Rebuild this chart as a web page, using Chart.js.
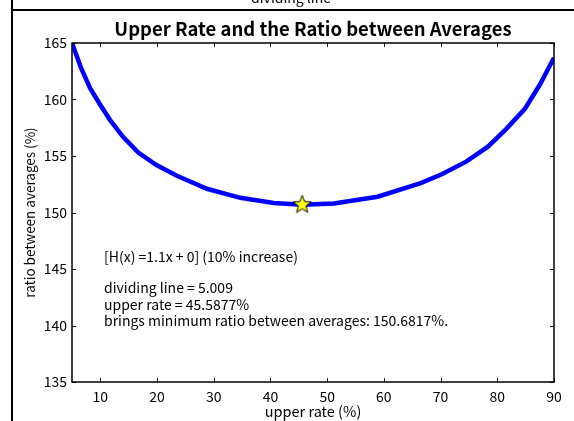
<!DOCTYPE html>
<html>
<head>
<meta charset="utf-8">
<script src="https://cdn.jsdelivr.net/npm/chart.js@4/dist/chart.umd.min.js"></script>
<style>
    html, body { margin: 0; padding: 0; background: #ffffff; }
    canvas { display: block; }
</style>
</head>
<body>
<canvas id="ratioChart" width="574" height="421"></canvas>
<script>
// values
const upperRate = [5.009, 6.6, 8.2, 9.9, 11.7, 14.0, 16.7, 19.9, 23.5, 28.8, 34.7, 40.6, 45.59, 51.2, 58.9, 66.5, 70.3, 74.5, 78.3, 81.6, 84.9, 87.5, 90];
const ratioAvg = [165.0, 162.8, 161.0, 159.6, 158.2, 156.7, 155.3, 154.2, 153.25, 152.1, 151.3, 150.85, 150.68, 150.8, 151.4, 152.6, 153.4, 154.5, 155.8, 157.4, 159.2, 161.3, 163.7];
const minRate = [45.5877];
const minRatio = [150.6817];
const xTicks = [10, 20, 30, 40, 50, 60, 70, 80, 90];
const yTicks = [135, 140, 145, 150, 155, 160, 165];
const noteLines = [
    '[H(x) =1.1x + 0] (10% increase)',
    '',
    'dividing line = 5.009',
    'upper rate = 45.5877%',
    'brings minimum ratio between averages: 150.6817%.'
];

const fontFamily = '"Noto Sans CJK JP", "Liberation Sans", sans-serif';

function makeStar(outer, inner) {
    let c = document.createElement('canvas');
    let size = Math.ceil(outer * 2 + 4);
    c.width = size;
    c.height = size;
    let ctx = c.getContext('2d');
    let cx = size / 2, cy = size / 2;
    ctx.beginPath();
    for (let i = 0; i < 10; i++) {
        let r = i % 2 === 0 ? outer : inner;
        let a = -Math.PI / 2 + i * Math.PI / 5;
        let px = cx + r * Math.cos(a);
        let py = cy + r * Math.sin(a);
        if (i === 0) ctx.moveTo(px, py); else ctx.lineTo(px, py);
    }
    ctx.closePath();
    ctx.fillStyle = '#ffff00';
    ctx.fill();
    ctx.lineWidth = 1;
    ctx.strokeStyle = '#000000';
    ctx.stroke();
    return c;
}

const decorations = {
    id: 'decorations',
    beforeDraw(chart) {
        let ctx = chart.ctx;
        ctx.save();
        ctx.fillStyle = '#ffffff';
        ctx.fillRect(0, 0, chart.width, chart.height);
        ctx.restore();
    },
    afterDraw(chart) {
        let ctx = chart.ctx;
        let area = chart.chartArea;
        let xs = chart.scales.x;
        let ys = chart.scales.y;
        ctx.save();

        // outer figure frame
        ctx.strokeStyle = '#000000';
        ctx.lineWidth = 2;
        ctx.beginPath();
        ctx.moveTo(12, 0);
        ctx.lineTo(12, chart.height);
        ctx.moveTo(12, 10);
        ctx.lineTo(chart.width, 10);
        ctx.stroke();

        // text of the panel above, cut off
        ctx.fillStyle = '#000000';
        ctx.font = '14px ' + fontFamily;
        ctx.textAlign = 'center';
        ctx.textBaseline = 'alphabetic';
        ctx.fillText('dividing line', 291, 3);

        // title
        ctx.font = 'bold 18.5px ' + fontFamily;
        ctx.textBaseline = 'middle';
        ctx.fillText('Upper Rate and the Ratio between Averages', (area.left + area.right) / 2, 29);

        // axes box
        ctx.lineWidth = 1.5;
        ctx.strokeRect(area.left, area.top, area.right - area.left, area.bottom - area.top);

        // inward ticks on all four sides
        ctx.lineWidth = 1;
        ctx.beginPath();
        xTicks.forEach(v => {
            let px = Math.round(xs.getPixelForValue(v)) + 0.5;
            ctx.moveTo(px, area.bottom);
            ctx.lineTo(px, area.bottom - 4);
            ctx.moveTo(px, area.top);
            ctx.lineTo(px, area.top + 4);
        });
        yTicks.forEach(v => {
            let py = Math.round(ys.getPixelForValue(v)) + 0.5;
            ctx.moveTo(area.left, py);
            ctx.lineTo(area.left + 4, py);
            ctx.moveTo(area.right, py);
            ctx.lineTo(area.right - 4, py);
        });
        ctx.stroke();

        // note text
        ctx.font = '14px ' + fontFamily;
        ctx.textAlign = 'left';
        ctx.textBaseline = 'middle';
        let noteY = [257, 0, 288, 305, 321];
        noteLines.forEach((line, i) => {
            if (line) ctx.fillText(line, 104, noteY[i]);
        });
        ctx.restore();
    }
};

let chartCanvas = document.getElementById('ratioChart').getContext('2d');

new Chart(chartCanvas, {
    type: 'scatter',
    data: {
        datasets: [
            {
                data: minRate.map((x, i) => ({x: x, y: minRatio[i]})),
                pointStyle: makeStar(9.5, 4),
                pointRadius: 10,
                showLine: false,
                order: 0
            },
            {
                data: upperRate.map((x, i) => ({x: x, y: ratioAvg[i]})),
                showLine: true,
                borderColor: '#0000ff',
                borderWidth: 4.5,
                pointRadius: 0,
                tension: 0,
                order: 1
            }
        ]
    },
    options: {
        responsive: false,
        animation: false,
        layout: {
            padding: {top: 43, left: 12, right: 20, bottom: 1}
        },
        plugins: {
            legend: {display: false},
            tooltip: {enabled: false}
        },
        scales: {
            x: {
                type: 'linear',
                min: 5.009,
                max: 90,
                afterBuildTicks: scale => {
                    scale.ticks = xTicks.map(v => ({value: v}));
                },
                afterFit: scale => {
                    scale.height = 38;
                },
                grid: {display: false, drawTicks: false},
                border: {display: false},
                ticks: {
                    color: '#000000',
                    padding: 6,
                    maxRotation: 0,
                    font: {family: fontFamily, size: 14}
                },
                title: {
                    display: true,
                    text: 'upper rate (%)',
                    color: '#000000',
                    padding: {top: 0, bottom: 0},
                    font: {family: fontFamily, size: 14.5}
                }
            },
            y: {
                type: 'linear',
                min: 135,
                max: 165,
                afterBuildTicks: scale => {
                    scale.ticks = yTicks.map(v => ({value: v}));
                },
                afterFit: scale => {
                    scale.width = 60;
                },
                grid: {display: false, drawTicks: false},
                border: {display: false},
                ticks: {
                    color: '#000000',
                    padding: 5,
                    font: {family: fontFamily, size: 14}
                },
                title: {
                    display: true,
                    text: 'ratio between averages (%)',
                    color: '#000000',
                    padding: {top: 10, bottom: 0},
                    font: {family: fontFamily, size: 13.5}
                }
            }
        }
    },
    plugins: [decorations]
});
</script>
</body>
</html>
